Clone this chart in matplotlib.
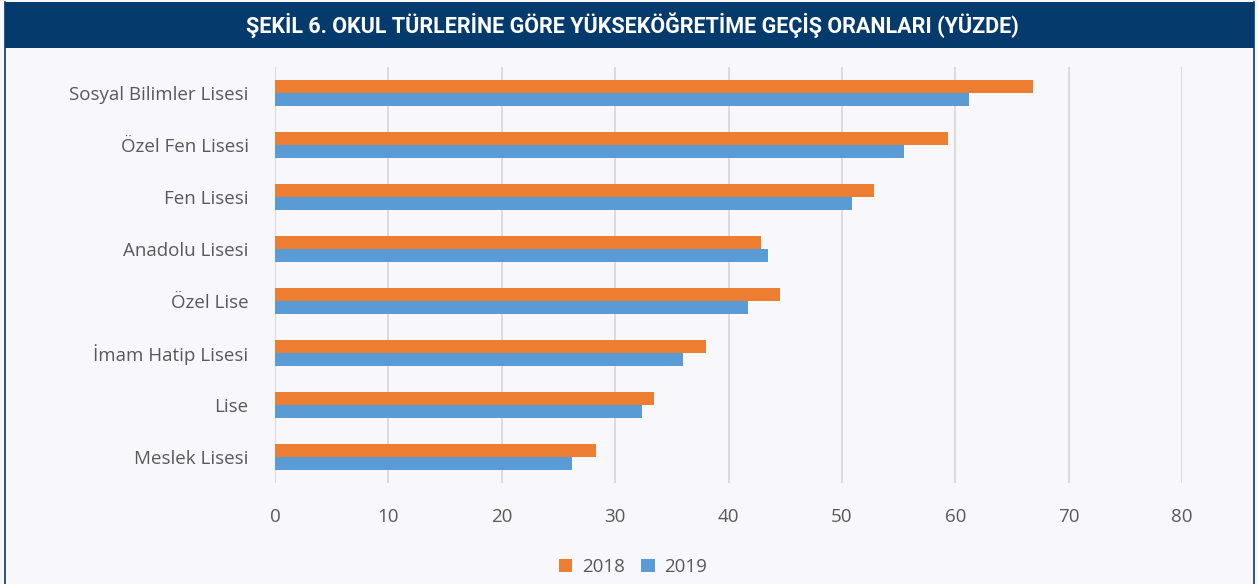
import numpy as np
import matplotlib
matplotlib.use("Agg")
import matplotlib.pyplot as plt
from matplotlib.patches import Rectangle
from matplotlib.lines import Line2D

# okul turleri, ustten alta
okullar = ["Sosyal Bilimler Lisesi", "Özel Fen Lisesi", "Fen Lisesi", "Anadolu Lisesi",
           "Özel Lise", "İmam Hatip Lisesi", "Lise", "Meslek Lisesi"]
oran_2018 = [66.9, 59.4, 52.8, 42.9, 44.5, 38.0, 33.4, 28.3]
oran_2019 = [61.2, 55.5, 50.9, 43.5, 41.7, 36.0, 32.4, 26.2]
yillar = ["2018", "2019"]
x_ticks = [0, 10, 20, 30, 40, 50, 60, 70, 80]
baslik = "ŞEKİL 6. OKUL TÜRLERİNE GÖRE YÜKSEKÖĞRETİME GEÇİŞ ORANLARI (YÜZDE)"

ORANGE = "#ED7D31"
BLUE = "#5B9BD5"
NAVY = "#053a6c"
BG = "#f8f7fb"
GRAY = "#595959"

W, H = 1258, 584
fig = plt.figure(figsize=(W / 100, H / 100), dpi=100, facecolor=BG)

# title bar + frame
fig.patches.append(Rectangle((5 / W, 1 - 48 / H), 1249 / W, 46 / H, transform=fig.transFigure,
                             facecolor=NAVY, edgecolor="none", zorder=0))
fig.lines.append(Line2D([5 / W, 5 / W], [0, 1 - 2 / H], transform=fig.transFigure, color=NAVY, lw=1.2))
fig.lines.append(Line2D([1254 / W, 1254 / W], [0, 1 - 2 / H], transform=fig.transFigure, color=NAVY, lw=1.2))
fig.text(632 / W, 1 - 25 / H, baslik, color="white", fontsize=15.5, fontweight="bold",
         ha="center", va="center", family=["Liberation Sans Narrow", "Roboto", "DejaVu Sans"])

ax = fig.add_axes([275 / W, 1 - 483 / H, (1182 - 275) / W, (483 - 67) / H])
ax.set_facecolor(BG)

y = np.arange(len(okullar))
h = 0.25
ax.barh(y - h / 2, oran_2018, height=h, color=ORANGE, label=yillar[0], zorder=3)
ax.barh(y + h / 2, oran_2019, height=h, color=BLUE, label=yillar[1], zorder=3)

ax.set_ylim(len(okullar) - 0.5, -0.5)
ax.set_xlim(0, 80)
ax.set_xticks(x_ticks)
ax.set_yticks(y)
ax.set_yticklabels(okullar)
ax.grid(axis="x", color="#d9d9d9", lw=1.3, zorder=0)
for s in ax.spines.values():
    s.set_visible(False)

lab_font = "Open Sans"
ax.tick_params(axis="y", length=0, pad=19, labelsize=13.5, labelcolor=GRAY)
ax.tick_params(axis="x", length=0, pad=18, labelsize=13.5, labelcolor=GRAY)
for t in ax.get_xticklabels() + ax.get_yticklabels():
    t.set_family(lab_font)

fig.legend(loc="center", bbox_to_anchor=(633 / W, 1 - 567 / H), ncol=2, frameon=False,
           handlelength=0.7, handleheight=0.7, handletextpad=0.5, columnspacing=0.9,
           prop={"family": lab_font, "size": 13.5}, labelcolor=GRAY)

fig.savefig("out.png", dpi=100, facecolor=BG)
